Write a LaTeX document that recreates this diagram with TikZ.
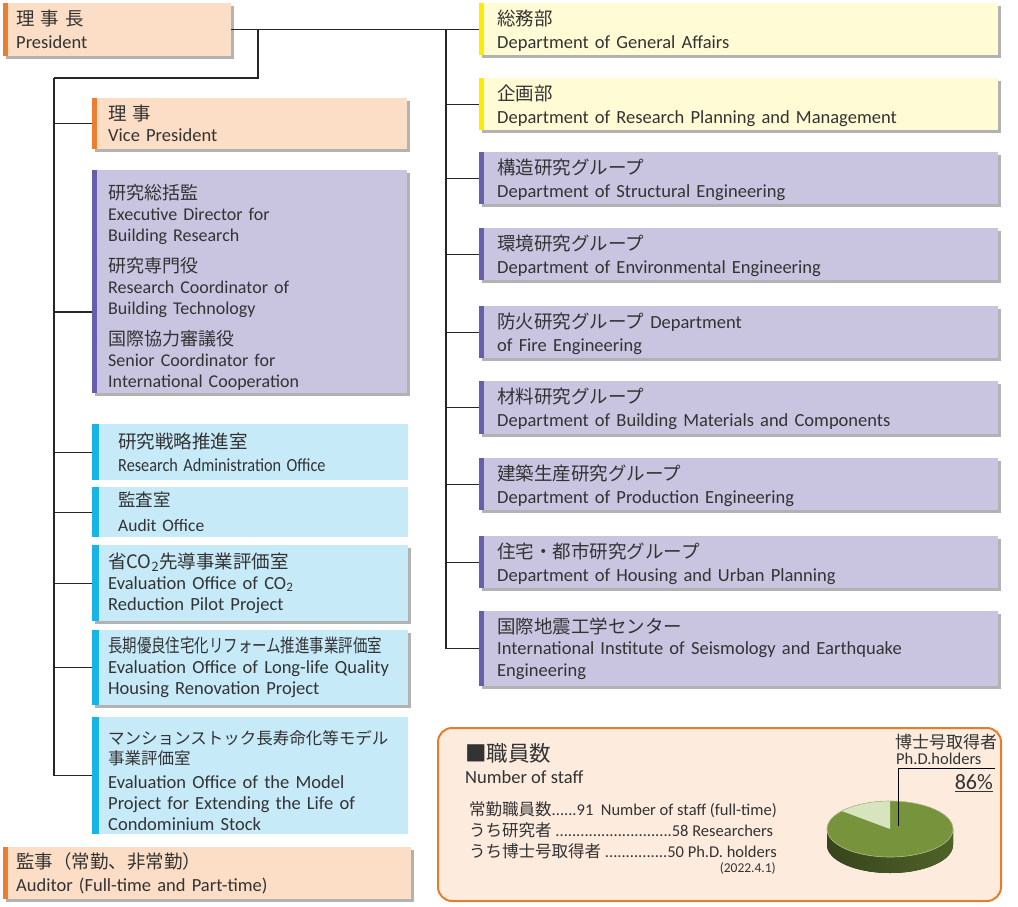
\documentclass[tikz,border=0pt]{standalone}
\usepackage{fontspec}
\usepackage{graphicx}
\setmainfont{Carlito}
\newfontfamily\jp{Noto Sans CJK JP}
\usetikzlibrary{shadows}

\definecolor{ink}{RGB}{51,51,51}
\definecolor{peach}{RGB}{252,221,198}
\definecolor{peachbar}{RGB}{237,125,49}
\definecolor{cream}{RGB}{255,252,213}
\definecolor{creambar}{RGB}{255,235,0}
\definecolor{lilac}{RGB}{201,197,225}
\definecolor{lilacbar}{RGB}{102,96,172}
\definecolor{sky}{RGB}{199,234,249}
\definecolor{skybar}{RGB}{25,180,230}
\definecolor{staffbg}{RGB}{253,235,221}
\definecolor{staffline}{RGB}{228,125,44}
\definecolor{piegreen}{RGB}{119,147,60}
\definecolor{pielight}{RGB}{215,228,189}
\definecolor{pieside}{RGB}{79,98,40}

\tikzset{
    unit/.style={rectangle, anchor=north west, align=left, text=ink, inner ysep=0pt, font=\fontsize{18.5}{23}\selectfont},
    castshadow/.style={drop shadow={shadow xshift=3pt, shadow yshift=-3pt, opacity=.3, fill=black}},
    bar/.style 2 args={path picture={\fill[#1] (path picture bounding box.north west) rectangle ([xshift=#2]path picture bounding box.south west);}},
    head/.style={unit, castshadow, fill=peach, bar={peachbar}{5pt}},
    gen/.style={unit, castshadow, fill=cream, bar={creambar}{5pt}, inner xsep=18pt, text width=483pt},
    dept/.style={unit, castshadow, fill=lilac, bar={lilacbar}{5pt}, inner xsep=18pt, text width=483pt},
    office/.style={unit, fill=sky, bar={skybar}{7pt}, inner xsep=16pt, text width=284pt},
    link/.style={draw=black!85, line width=1.1pt},
    note/.style={anchor=west, inner sep=0pt, text=ink},
}

\begin{document}
\begin{tikzpicture}[x=1pt, y=-1pt]
    \useasboundingbox (0,0) rectangle (1018,907);

    \node[head, inner xsep=13pt, text width=202pt, minimum height=53pt] (pres) at (3,3) {{\jp 理\ 事\ 長}\\President};
    \node[head, inner xsep=16pt, text width=283pt, minimum height=51pt, font=\fontsize{18.5}{21}\selectfont] (vp) at (92,98) {{\jp 理\ 事}\\Vice President};
    \node[dept, inner xsep=16pt, text width=283pt, minimum height=223pt, font=\fontsize{18}{21}\selectfont] (exec) at (92,170) {\rule{0pt}{26pt}{\jp 研究総括監}\\Executive Director for\\Building Research\\[10pt]{\jp 研究専門役}\\Research Coordinator of\\Building Technology\\[10pt]{\jp 国際協力審議役}\\Senior Coordinator for\\International Cooperation};
    \node[office, inner xsep=26pt, text width=264pt, minimum height=56pt, font=\fontsize{18.5}{22.5}\selectfont] (rao) at (92,424) {{\jp 研究戦略推進室}\\\scalebox{.88}[1]{Research Administration Office}};
    \node[office, inner xsep=26pt, text width=264pt, minimum height=50pt, font=\fontsize{17.5}{25}\selectfont] (audit) at (92,487) {{\jp 監査室}\\Audit Office};
    \node[office, castshadow, minimum height=76pt, font=\fontsize{18.5}{21}\selectfont] (co2) at (92,545) {{\jp 省CO\textsubscript{2}先導事業評価室}\\Evaluation Office of CO\textsubscript{2}\\Reduction Pilot Project};
    \node[office, castshadow, minimum height=75pt, font=\fontsize{18.5}{21}\selectfont] (long) at (92,630) {\scalebox{.78}[1]{\jp 長期優良住宅化リフォーム推進事業評価室}\\\mbox{Evaluation Office of Long-life Quality}\\Housing Renovation Project};
    \node[office, minimum height=117pt, font=\fontsize{18.5}{21}\selectfont] (mansion) at (92,717) {\rule{0pt}{24pt}{\fontsize{16.5}{20}\selectfont\jp マンションストック長寿命化等モデル}\\[-1pt]{\fontsize{16.5}{20}\selectfont\jp 事業評価室}\\[3pt]Evaluation Office of the Model\\Project for Extending the Life of\\Condominium Stock};
    \node[head, inner xsep=13pt, text width=382pt, minimum height=52pt] (auditor) at (3,847) {{\jp 監事（常勤、非常勤）}\\Auditor (Full-time and Part-time)};

    \node[gen, minimum height=52pt] (ga) at (479,3) {\rule{0pt}{18pt}{\jp 総務部}\\Department of General Affairs};
    \node[gen, minimum height=52pt] (plan) at (479,78) {\rule{0pt}{18pt}{\jp 企画部}\\Department of Research Planning and Management};
    \node[dept, minimum height=52pt] (struct) at (479,152) {\rule{0pt}{18pt}{\jp 構造研究グループ}\\Department of Structural Engineering};
    \node[dept, minimum height=52pt] (env) at (479,228) {\rule{0pt}{18pt}{\jp 環境研究グループ}\\Department of Environmental Engineering};
    \node[dept, minimum height=52pt] (fire) at (479,306) {\rule{0pt}{18pt}{\jp 防火研究グループ} Department\\of Fire Engineering};
    \node[dept, minimum height=53pt] (mat) at (479,381) {\rule{0pt}{18pt}{\jp 材料研究グループ}\\Department of Building Materials and Components};
    \node[dept, minimum height=52pt] (prod) at (479,458) {\rule{0pt}{18pt}{\jp 建築生産研究グループ}\\Department of Production Engineering};
    \node[dept, minimum height=52pt] (hous) at (479,536) {\rule{0pt}{18pt}{\jp 住宅・都市研究グループ}\\Department of Housing and Urban Planning};
    \node[dept, minimum height=75pt, font=\fontsize{18.5}{21.5}\selectfont] (iisee) at (479,611) {{\jp 国際地震工学センター}\\International Institute of Seismology and Earthquake\\Engineering};

    \draw[link] (pres.east) -- (pres.east -| ga.west);
    \coordinate (rtop) at (446,30);
    \draw[link] (rtop) -- (rtop |- iisee.west);
    \foreach \d in {plan, struct, env, fire, mat, prod, hous, iisee} {
        \draw[link] (rtop |- \d.west) -- (\d.west);
    }
    \coordinate (ltop) at (258,29);
    \coordinate (ltrunk) at (54,78);
    \draw[link] (ltop) |- (ltrunk);
    \draw[link, line width=1.6pt] (ltrunk) -- (ltrunk |- mansion.west);
    \foreach \u in {vp, rao, audit, co2, long, mansion} {
        \draw[link] (ltrunk |- \u.west) -- (\u.west);
    }
    \draw[link] (ltrunk |- 0,312) -- (exec.west |- 0,312);

    \node[draw=staffline, line width=2pt, rounded corners=14pt, fill=staffbg, minimum width=563pt, minimum height=173pt, anchor=north west, inner sep=0pt] (staff) at (437,727) {};
    \node[note, font=\fontsize{21.5}{25}\selectfont\jp] (stafftitle) at (465,753) {■職員数};
    \node[note, font=\fontsize{18.5}{22}\selectfont] (staffsub) at (465,777) {Number of staff};
    \node[note, font=\fontsize{16.5}{20}\selectfont] (row1) at (469,810) {{\jp 常勤職員数}......91\ \ Number of staff (full-time)};
    \node[note, font=\fontsize{16.5}{20}\selectfont] (row2) at (469,830) {{\jp うち研究者} ............................58 Researchers};
    \node[note, font=\fontsize{16.5}{20}\selectfont] (row3) at (469,851) {{\jp うち博士号取得者} ...............50 Ph.D. holders};
    \node[note, anchor=east, font=\fontsize{13.5}{16}\selectfont] (stamp) at (776,868) {(2022.4.1)};

    \fill[left color=pieside!70!black, middle color=piegreen!85!black, right color=pieside] (953,829) arc (0:180:63 and 28) -- ++(0,16) arc (180:0:63 and 28) -- cycle;
    \fill[piegreen] (890,829) ellipse (63 and 28);
    \fill[pielight] (890,829) -- +(220:63 and 28) arc (220:270:63 and 28) -- cycle;
    \draw[piegreen!60!white, line width=.6pt] (890,829) ellipse (63 and 28);

    \node[note, font=\fontsize{17}{20}\selectfont\jp] (phdjp) at (895,742) {博士号取得者};
    \node[note, font=\fontsize{16.5}{20}\selectfont] (phden) at (896,759) {Ph.D.holders};
    \node[note, anchor=east, font=\fontsize{22}{26}\selectfont] (phdpct) at (993,783) {\underline{86\%}};
    \coordinate (piemid) at (898,826);
    \coordinate (leadend) at (995,768);
    \draw[black, line width=.8pt] (piemid) |- (leadend);
\end{tikzpicture}
\end{document}
